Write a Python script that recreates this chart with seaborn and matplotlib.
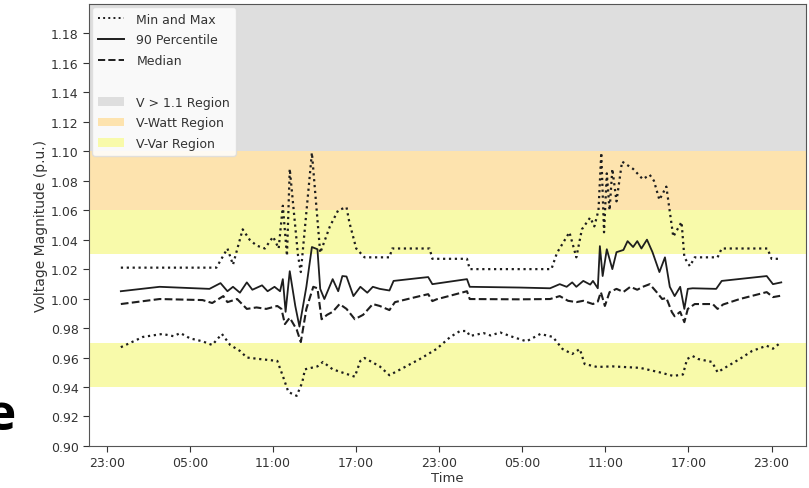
import matplotlib
matplotlib.use("Agg")
import matplotlib.pyplot as plt
import matplotlib.dates as mdates
from matplotlib.lines import Line2D
from matplotlib.patches import Patch
import seaborn as sns
import pandas as pd

# ---- data (hours from day-1 00:00, voltage p.u.) ----
max_h = [0.0, 6.9, 7.7, 8.1, 8.8, 9.3, 9.8, 10.4, 11.0, 11.4, 11.7, 12.0, 12.2, 12.8, 13.0,
         13.8, 14.4, 15.1, 15.7, 16.3, 16.5, 17.0, 17.6, 19.4, 19.6, 22.3, 22.5, 25.0, 25.2,
         31.1, 31.5, 32.4, 32.9, 33.3, 33.9, 34.2, 34.5, 34.7, 34.9, 35.1, 35.3, 35.5, 35.8,
         36.2, 37.0, 37.7, 38.2, 38.5, 38.9, 39.4, 39.65, 39.9, 40.5, 40.7, 41.1, 41.45,
         43.1, 43.4, 46.7, 47.0, 47.7]
max_v = [1.021, 1.021, 1.034, 1.023, 1.047, 1.040, 1.036, 1.034, 1.042, 1.034, 1.063, 1.029,
         1.088, 1.029, 1.018, 1.099, 1.031, 1.049, 1.060, 1.062, 1.052, 1.034, 1.028, 1.028,
         1.034, 1.034, 1.027, 1.027, 1.020, 1.020, 1.031, 1.045, 1.028, 1.047, 1.055, 1.049,
         1.060, 1.099, 1.045, 1.085, 1.060, 1.088, 1.066, 1.093, 1.088, 1.081, 1.084, 1.080,
         1.067, 1.076, 1.059, 1.042, 1.052, 1.028, 1.022, 1.028, 1.028, 1.034, 1.034, 1.027,
         1.027]

min_h = [0.0, 1.6, 3.0, 3.8, 4.3, 5.0, 5.9, 6.6, 7.3, 7.9, 8.6, 9.1, 10.0, 11.3, 11.7, 12.1,
         12.7, 13.1, 13.3, 14.2, 14.6, 15.3, 16.9, 17.3, 17.6, 18.7, 19.4, 20.4, 21.6, 22.8,
         23.8, 24.5, 25.0, 25.2, 26.2, 26.7, 27.4, 28.3, 29.3, 30.3, 31.2, 31.9, 32.6, 33.15,
         33.5, 34.4, 35.5, 36.5, 37.5, 38.9, 39.9, 40.6, 40.9, 41.3, 41.7, 42.7, 43.1, 43.8,
         44.7, 45.6, 46.65, 47.1, 47.7]
min_v = [0.967, 0.974, 0.976, 0.9745, 0.9766, 0.973, 0.971, 0.9685, 0.976, 0.9685, 0.9645,
         0.960, 0.959, 0.9577, 0.9475, 0.9366, 0.934, 0.943, 0.952, 0.954, 0.957, 0.952,
         0.947, 0.9577, 0.9597, 0.954, 0.948, 0.953, 0.959, 0.9658, 0.974, 0.978, 0.978,
         0.9746, 0.9766, 0.975, 0.977, 0.974, 0.971, 0.976, 0.974, 0.9658, 0.9624, 0.9658,
         0.9556, 0.9536, 0.954, 0.9535, 0.953, 0.950, 0.9475, 0.9485, 0.959, 0.961, 0.959,
         0.957, 0.950, 0.954, 0.959, 0.9645, 0.968, 0.966, 0.9705]

p90_h = [0.0, 2.8, 6.4, 7.2, 7.7, 8.1, 8.6, 9.1, 9.5, 10.2, 10.6, 11.1, 11.5, 11.7, 11.9,
         12.2, 12.6, 12.9, 13.4, 13.8, 14.2, 14.4, 14.7, 15.3, 15.7, 16.0, 16.3, 16.8, 17.3,
         17.8, 18.2, 18.7, 19.4, 19.7, 21.6, 22.2, 22.5, 25.0, 25.2, 28.8, 31.0, 31.7, 32.2,
         32.6, 32.9, 33.4, 33.9, 34.1, 34.45, 34.6, 34.8, 35.1, 35.5, 35.8, 36.3, 36.6, 37.0,
         37.3, 37.6, 38.0, 38.4, 38.9, 39.3, 39.65, 40.0, 40.4, 40.7, 40.95, 41.3, 43.0, 43.4,
         46.65, 47.1, 47.7]
p90_v = [1.005, 1.008, 1.0066, 1.0105, 1.005, 1.008, 1.004, 1.011, 1.006, 1.009, 1.005,
         1.008, 1.005, 1.0132, 0.991, 1.0186, 0.995, 0.981, 1.008, 1.035, 1.0335, 1.0066,
         0.9997, 1.0132, 1.005, 1.0153, 1.015, 1.0017, 1.008, 1.004, 1.008, 1.0066, 1.0055,
         1.012, 1.014, 1.0146, 1.0098, 1.0132, 1.008, 1.0075, 1.007, 1.0098, 1.008, 1.011,
         1.008, 1.012, 1.0095, 1.012, 1.007, 1.0356, 1.0153, 1.0335, 1.020, 1.0315, 1.033,
         1.039, 1.035, 1.039, 1.034, 1.040, 1.0315, 1.018, 1.028, 1.008, 1.0017, 1.008, 0.993,
         1.0066, 1.007, 1.0066, 1.012, 1.0153, 1.0098, 1.011]

med_h = [0.0, 2.8, 5.9, 6.6, 7.4, 7.7, 8.4, 9.1, 9.8, 10.5, 11.3, 11.6, 11.85, 12.2, 12.7,
         13.0, 13.4, 13.9, 14.2, 14.5, 14.9, 15.3, 15.8, 16.3, 16.9, 17.5, 18.2, 18.7, 19.4,
         19.8, 21.6, 22.2, 22.5, 22.8, 25.0, 25.2, 28.8, 31.0, 31.7, 32.3, 32.9, 33.4, 34.1,
         34.45, 34.67, 34.96, 35.3, 35.8, 36.3, 36.8, 37.3, 37.7, 38.2, 38.7, 39.1, 39.4,
         39.8, 40.0, 40.4, 40.7, 40.95, 41.45, 42.75, 43.1, 43.5, 44.7, 46.65, 47.1, 47.7]
med_v = [0.9963, 0.9997, 0.999, 0.997, 1.0017, 0.9976, 0.9997, 0.993, 0.994, 0.993, 0.995,
         0.993, 0.9827, 0.987, 0.979, 0.9705, 0.993, 1.008, 1.007, 0.986, 0.989, 0.991,
         0.9963, 0.993, 0.986, 0.989, 0.9963, 0.995, 0.9922, 0.9976, 1.0017, 1.003, 0.9983,
         0.9995, 1.005, 0.9997, 0.9995, 0.9997, 1.0017, 0.9985, 0.9976, 0.9985, 0.9963,
         0.998, 1.0044, 0.995, 1.0044, 1.0066, 1.0045, 1.008, 1.006, 1.008, 1.0098, 1.0044,
         0.9997, 1.0005, 0.9908, 0.988, 0.991, 0.984, 0.993, 0.9963, 0.9963, 0.993, 0.996,
         0.9997, 1.0044, 1.001, 1.002]

region_labels = ["V > 1.1 Region", "V-Watt Region", "V-Var Region"]
region_bounds = [(1.10, 1.20), (1.06, 1.10), (1.03, 1.06), (0.94, 0.97)]
region_colors = ["#dedede", "#fde3ae", "#f8faaa", "#f8faaa"]
line_labels = ["Min and Max", "90 Percentile", "Median"]
y_ticks = [0.90, 0.92, 0.94, 0.96, 0.98, 1.00, 1.02, 1.04, 1.06, 1.08, 1.10,
           1.12, 1.14, 1.16, 1.18]

base = pd.Timestamp("2019-07-01 00:00")
def to_time(hours):
    return base + pd.to_timedelta(hours, unit="h")

fig = plt.figure(figsize=(8.09, 4.89), dpi=100)
ax = fig.add_axes([0.110, 0.086, 0.886, 0.904])

for (lo, hi), c in zip(region_bounds, region_colors):
    ax.axhspan(lo, hi, color=c, lw=0, zorder=0)

lc = "#1e1e1e"
sns.lineplot(x=to_time(max_h), y=max_v, ax=ax, color=lc, lw=1.6, ls=":", legend=False, estimator=None)
sns.lineplot(x=to_time(min_h), y=min_v, ax=ax, color=lc, lw=1.6, ls=":", legend=False, estimator=None)
sns.lineplot(x=to_time(p90_h), y=p90_v, ax=ax, color=lc, lw=1.3, ls="-", legend=False, estimator=None)
sns.lineplot(x=to_time(med_h), y=med_v, ax=ax, color=lc, lw=1.5, ls="--", legend=False, estimator=None)

ax.set_ylim(0.90, 1.20)
ax.set_xlim(to_time(-2.3), to_time(49.47))
ax.set_yticks(y_ticks)
ax.yaxis.set_major_formatter(matplotlib.ticker.FormatStrFormatter("%.2f"))
ax.xaxis.set_major_locator(mdates.HourLocator(byhour=[5, 11, 17, 23]))
ax.xaxis.set_major_formatter(mdates.DateFormatter("%H:%M"))
ax.tick_params(labelsize=9, colors="#333333", length=4)
for s in ax.spines.values():
    s.set_color("#555555")

ax.set_xlabel("Time", fontsize=9.5, color="#333333", labelpad=1)
ax.set_ylabel("Voltage Magnitude (p.u.)", fontsize=10, color="#333333", labelpad=2)

handles = [
    Line2D([], [], color=lc, lw=1.4, ls=":"),
    Line2D([], [], color=lc, lw=1.4, ls="-"),
    Line2D([], [], color=lc, lw=1.4, ls="--"),
    Line2D([], [], color="none"),
    Patch(facecolor=region_colors[0]),
    Patch(facecolor=region_colors[1]),
    Patch(facecolor=region_colors[2]),
]
labels = line_labels + [""] + region_labels
leg = ax.legend(handles, labels, loc="upper left", fontsize=9, labelspacing=0.62,
                handlelength=2.1, handletextpad=1.0, borderpad=0.45, borderaxespad=0.25,
                frameon=True, fancybox=True, framealpha=0.85, edgecolor="#dddddd")
for t in leg.get_texts():
    t.set_color("#333333")

fig.text(-0.017, 0.121, "e", fontsize=37, fontweight="bold", family="Open Sans",
         ha="left", va="baseline", color="black")

fig.savefig("out.png", dpi=100)
